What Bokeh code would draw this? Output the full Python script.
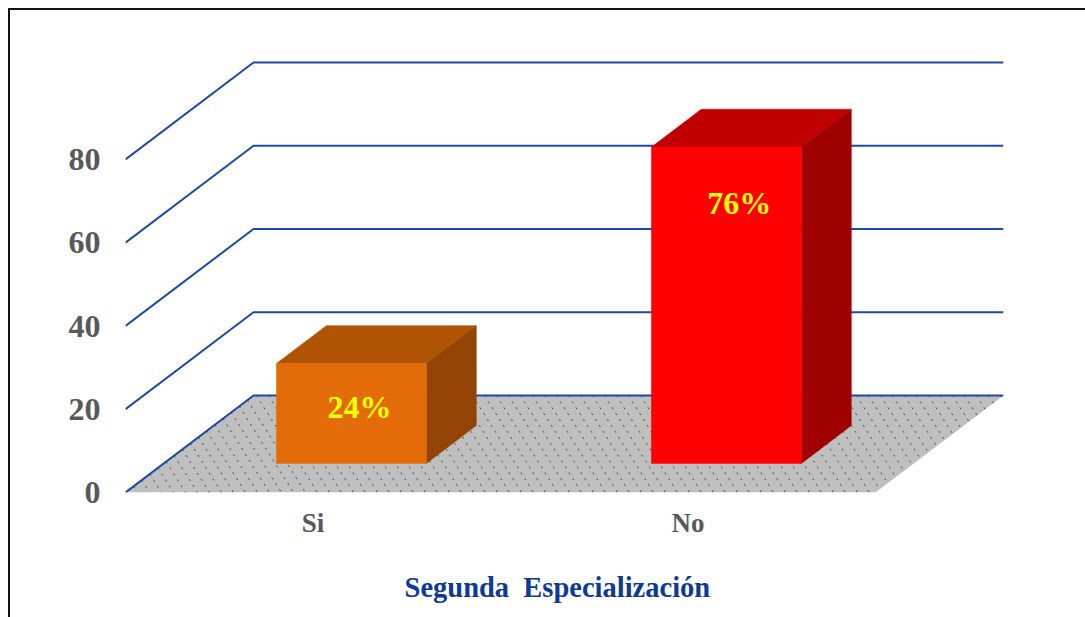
from bokeh.plotting import figure
from bokeh.models import Range1d, FixedTicker
from bokeh.core.properties import value
from bokeh.embed import file_html
from bokeh.resources import INLINE

categories = ["Si", "No"]
percent = [24, 76]
labels = ["24%", "76%"]
label_heights = [12.5, 61.75]
ticks = [0, 20, 40, 60, 80]
front_colors = ["#E36C09", "#FF0000"]
top_colors = ["#AF5304", "#C00000"]
side_colors = ["#934404", "#A00000"]

W, H = 1085, 617
PX_X = 375.0          # pixels per category
PX_Y = 4.1625         # pixels per percent
DEPTH_X = 128 / PX_X  # back-wall shift in category units
DEPTH_Y = 97 / PX_Y   # back-wall shift in value units
BAR_W = 0.4
Z0, Z1 = 0.30, 0.69
SERIF = "Liberation Serif"


def proj(x, v, z):
    return x + z * DEPTH_X, v + z * DEPTH_Y


def poly(points):
    pts = [proj(*p) for p in points]
    return [a for a, _ in pts], [b for _, b in pts]


p = figure(width=W, height=H, output_backend="svg", toolbar_location=None,
           x_range=Range1d(-0.5, -0.5 + 878 / PX_X),
           y_range=Range1d(0, 492 / PX_Y),
           min_border_left=125, min_border_right=82,
           min_border_top=0, min_border_bottom=125)
p.grid.visible = False
p.outline_line_color = None
p.background_fill_color = "white"

# Page frame: only its top and left edges fall inside the window
p.stylesheets = [""":host::after {
  content: ""; position: absolute; left: 8px; top: 8px; right: 0; bottom: 0;
  border-left: 2px solid #111; border-top: 2px solid #111; pointer-events: none;
}"""]

# Floor
xl, xr = -0.5, 1.5
fx, fy = poly([(xl, 0, 0), (xr, 0, 0), (xr, 0, 1), (xl, 0, 1)])
p.patch(fx, fy, fill_color="#BFBFBF", line_color=None)

# Floor stipple: dashed lines running from the back edge to the front edge
SLANT = 189 / PX_X
STEP = 12 / PX_X
sxs, sys = [], []
n = int((xr - xl + SLANT) / STEP)
for i in range(n + 1):
    xb = xl - SLANT + i * STEP
    t0 = max(0.0, (xl - xb) / SLANT)
    t1 = min(1.0, (xr - xb) / SLANT)
    if t1 <= t0:
        continue
    a = proj(xb + t0 * SLANT, 0, 1 - t0)
    b = proj(xb + t1 * SLANT, 0, 1 - t1)
    sxs.append([a[0], b[0]])
    sys.append([a[1], b[1]])
p.multi_line(sxs, sys, line_color="#444444", line_width=1, line_dash="2 5")

# Grid: side wall plus back wall
for t in ticks:
    gx, gy = poly([(xl, t, 0), (xl, t, 1), (xr, t, 1)])
    p.line(gx, gy, line_color="#1C4AA6", line_width=2)

# Bars
for i, v in enumerate(percent):
    x0, x1 = i - BAR_W / 2, i + BAR_W / 2
    tx, ty = poly([(x0, v, Z0), (x1, v, Z0), (x1, v, Z1), (x0, v, Z1)])
    p.patch(tx, ty, fill_color=top_colors[i], line_color=top_colors[i], line_width=0.5)
    sx, sy = poly([(x1, 0, Z0), (x1, 0, Z1), (x1, v, Z1), (x1, v, Z0)])
    p.patch(sx, sy, fill_color=side_colors[i], line_color=side_colors[i], line_width=0.5)
    qx, qy = poly([(x0, 0, Z0), (x1, 0, Z0), (x1, v, Z0), (x0, v, Z0)])
    p.patch(qx, qy, fill_color=front_colors[i], line_color=front_colors[i], line_width=0.5)

# Data labels
label_pos = [proj(0.008, label_heights[0], 0.34), proj(1.024, label_heights[1], 0.33)]
p.text([a for a, _ in label_pos], [b for _, b in label_pos], text=labels,
       text_color="#FFFF00", text_font=value(SERIF), text_font_style="bold",
       text_font_size="32px", text_align="center", text_baseline="middle")

# Axes
p.yaxis.ticker = FixedTicker(ticks=ticks)
p.yaxis.axis_line_color = None
p.yaxis.major_tick_line_color = None
p.yaxis.minor_tick_line_color = None
p.yaxis.major_label_standoff = 25
p.yaxis.major_tick_in = 0
p.yaxis.major_tick_out = 0
p.yaxis.major_label_text_font = SERIF
p.yaxis.major_label_text_font_style = "bold"
p.yaxis.major_label_text_font_size = "32px"
p.yaxis.major_label_text_color = "#595959"

p.xaxis.ticker = FixedTicker(ticks=[0, 1])
p.xaxis.major_label_overrides = {i: c for i, c in enumerate(categories)}
p.xaxis.axis_line_color = None
p.xaxis.major_tick_line_color = None
p.xaxis.minor_tick_line_color = None
p.xaxis.major_tick_in = 0
p.xaxis.major_tick_out = 0
p.xaxis.major_label_standoff = 15
p.xaxis.major_label_text_font = SERIF
p.xaxis.major_label_text_font_style = "bold"
p.xaxis.major_label_text_font_size = "27px"
p.xaxis.major_label_text_color = "#595959"

# Trailing no-break spaces move the centred label to the reference's position
p.xaxis.axis_label = "Segunda\u00a0\u00a0Especialización\u00a0\u00a0"
p.xaxis.axis_label_standoff = 31
p.xaxis.axis_label_text_color = "#0B3B94"
p.xaxis.axis_label_text_font = SERIF
p.xaxis.axis_label_text_font_style = "bold"
p.xaxis.axis_label_text_font_size = "28.5px"

open("out.html", "w").write(file_html(p, INLINE))
